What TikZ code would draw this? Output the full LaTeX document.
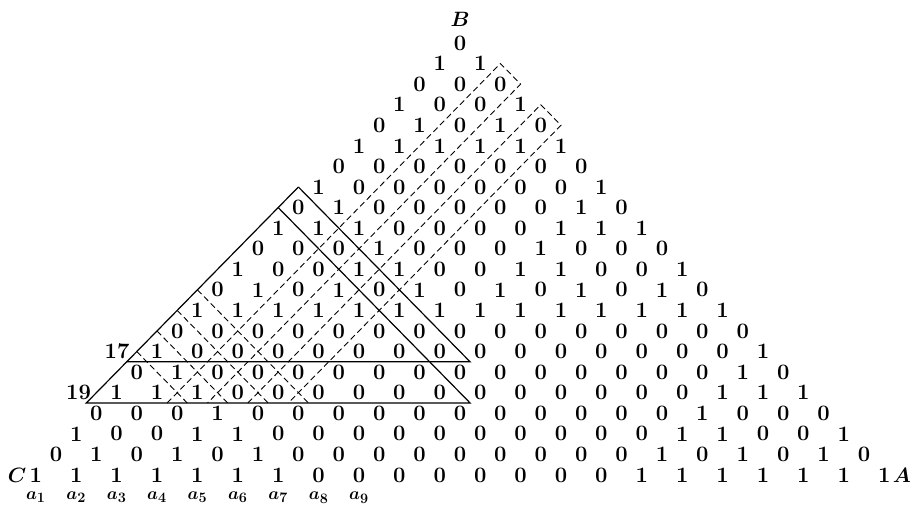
\documentclass[tikz,border=0pt]{standalone}
\usepackage{amsmath}
\usepackage{fontspec}
\usepackage{tikz}
\usetikzlibrary{positioning}

\begin{document}
\begin{tikzpicture}[
    x={(40.4pt,0pt)}, y={(-20.2pt,-20.57pt)},
    digit/.style={inner sep=0pt, font=\fontsize{22}{22}\selectfont\bfseries},
    corner/.style={inner sep=0pt, font=\fontsize{22}{22}\selectfont\boldmath},
    index/.style={inner sep=0pt, font=\fontsize{19}{19}\selectfont\boldmath},
    frame/.style={line width=1.2pt},
    strip/.style={line width=0.9pt, dash pattern=on 6pt off 3.5pt}
]
\useasboundingbox (-460pt,43pt) rectangle (452pt,-462pt);

% rows of the triangle, from B down to the side CA
\foreach \row [count=\k from 0] in {
    {0},
    {1,1},
    {0,0,0},
    {1,0,0,1},
    {0,1,0,1,0},
    {1,1,1,1,1,1},
    {0,0,0,0,0,0,0},
    {1,0,0,0,0,0,0,1},
    {0,1,0,0,0,0,0,1,0},
    {1,1,1,0,0,0,0,1,1,1},
    {0,0,0,1,0,0,0,1,0,0,0},
    {1,0,0,1,1,0,0,1,1,0,0,1},
    {0,1,0,1,0,1,0,1,0,1,0,1,0},
    {1,1,1,1,1,1,1,1,1,1,1,1,1,1},
    {0,0,0,0,0,0,0,0,0,0,0,0,0,0,0},
    {1,0,0,0,0,0,0,0,0,0,0,0,0,0,0,1},
    {0,1,0,0,0,0,0,0,0,0,0,0,0,0,0,1,0},
    {1,1,1,0,0,0,0,0,0,0,0,0,0,0,0,1,1,1},
    {0,0,0,1,0,0,0,0,0,0,0,0,0,0,0,1,0,0,0},
    {1,0,0,1,1,0,0,0,0,0,0,0,0,0,0,1,1,0,0,1},
    {0,1,0,1,0,1,0,0,0,0,0,0,0,0,0,1,0,1,0,1,0},
    {1,1,1,1,1,1,1,0,0,0,0,0,0,0,0,1,1,1,1,1,1,1}}{
  \foreach \v [count=\j from 0] in \row
    \node[digit] (n\k-\j) at (\j,\k) {\v};
}

% corners and labels
\node[corner, above=9pt of n0-0]   (B) {$B$};
\node[corner, left=3pt of n21-0]   (C) {$C$};
\node[corner, right=2pt of n21-21] (A) {$A$};
\foreach \i [evaluate=\i as \j using int(\i-1)] in {1,...,9}
  \node[index, below=9.5pt of n21-\j] (a\i) {$a_{\i}$};
\node[digit, left=21pt of n15-0] (l17) {17};
\node[digit, left=19pt of n17-0] (l19) {19};

% solid frame
\coordinate (top)  at (-0.5,7);
\coordinate (top2) at (-0.5,8);
\coordinate (mid)  at (-0.5,15.5);
\coordinate (bot)  at (-0.5,17.5);
\draw[frame] (top) -- (bot) -- (9,17.5) -- (top2);
\draw[frame] (top) -- (8,15.5) -- (mid);

% dashed strips
\draw[strip] (1.5,17.5) -- (1.5,1) -- (2.5,2) -- (2.5,17.5);
\draw[strip] (3.5,17.5) -- (3.5,3) -- (4.5,4) -- (4.5,17.5);
\foreach \c in {12,...,15}
  \draw[strip] (-0.5,\c) -- ({17-\c},17.5);

\end{tikzpicture}
\end{document}
